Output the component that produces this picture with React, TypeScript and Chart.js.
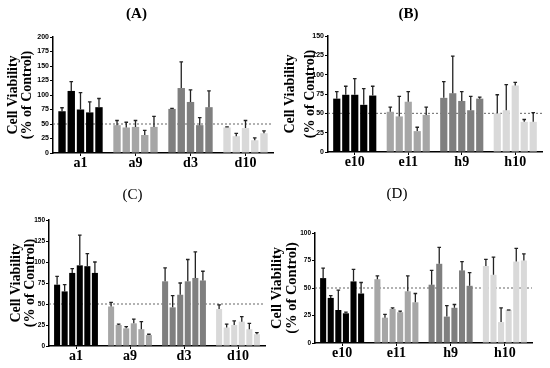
import React, { useEffect, useRef } from "react";
import { Chart, registerables } from "chart.js";
Chart.register(...registerables);

// ---------- DATA ----------
const catsA = ["a1", "a9", "d3", "d10"];
const meanA = [
  [72, 107, 75, 70, 79],
  [48, 44, 45, 31, 45],
  [76, 112, 88, 48, 79],
  [44, 29, 43, 22, 34],
];
const sdA = [
  [6, 16, 29, 18, 15],
  [8, 9, 11, 8, 18],
  [1, 45, 21, 13, 28],
  [1, 5, 13, 4, 4],
];

const catsB = ["e10", "e11", "h9", "h10"];
const meanB = [
  [69, 74, 74, 61, 73],
  [52, 46, 65, 27, 48],
  [70, 76, 66, 54, 69],
  [50, 54, 86, 39, 39],
];
const sdB = [
  [9, 11, 21, 21, 12],
  [6, 26, 13, 5, 10],
  [21, 48, 12, 18, 2],
  [24, 33, 4, 3, 12],
];

const catsC = ["a1", "a9", "d3", "d10"];
const meanC = [
  [73, 65, 87, 96, 95, 87],
  [47, 25, 21, 27, 20, 13],
  [77, 46, 61, 77, 81, 78],
  [44, 22, 25, 29, 20, 14],
];
const sdC = [
  [10, 8, 5, 36, 15, 13],
  [5, 1, 2, 5, 9, 1],
  [16, 14, 14, 26, 31, 11],
  [5, 4, 5, 6, 7, 2],
];

const catsD = ["e10", "e11", "h9", "h10"];
const meanD = [
  [59, 41, 30, 27, 56, 45],
  [58, 23, 31, 28, 47, 37],
  [53, 72, 24, 32, 66, 52],
  [70, 62, 19, 30, 74, 75],
];
const sdD = [
  [9, 2, 18, 1, 11, 10],
  [3, 3, 1, 1, 14, 8],
  [13, 15, 10, 3, 8, 12],
  [6, 16, 13, 0, 12, 6],
];

const groupColors = ["#000000", "#a6a6a6", "#7f7f7f", "#d9d9d9"];
const yTitle = ["Cell Viability", "(% of Control)"];
const refValue = 50;

type PanelCfg = {
  left: number;
  top: number;
  width: number;
  height: number;
  title: string;
  titleBold: boolean;
  titleSize: number;
  titlePadTop: number;
  titlePadBottom: number;
  cats: string[];
  mean: number[][];
  sd: number[][];
  yMax: number;
  yWidth: number;
  xHeight: number;
  padRight: number;
  yTitleSize: number;
  yTitleLH: number;
  yTitlePad: number;
  tickFont: string;
  tickSize: number;
  tickWeight: string;
  catSize: number;
};

const serif = "'Liberation Serif', 'Times New Roman', serif";

function Panel(p: PanelCfg) {
  const ref = useRef<HTMLCanvasElement | null>(null);
  useEffect(() => {
    if (!ref.current) return;
    const nBars = p.mean[0].length;
    const datasets = Array.from({ length: nBars }, (_, i) => ({
      label: "s" + i,
      data: p.cats.map((_, g) => p.mean[g][i]),
      backgroundColor: groupColors,
      borderWidth: 0,
      categoryPercentage: 0.84,
      barPercentage: 0.8,
    }));
    const errPlugin = {
      id: "err",
      beforeDatasetsDraw(chart: any) {
        const { ctx, chartArea } = chart;
        const y = chart.scales.y.getPixelForValue(refValue);
        ctx.save();
        ctx.strokeStyle = "#666";
        ctx.lineWidth = 1;
        ctx.setLineDash([2, 2]);
        ctx.beginPath();
        ctx.moveTo(chartArea.left, y);
        ctx.lineTo(chartArea.right, y);
        ctx.stroke();
        ctx.restore();
      },
      afterDatasetsDraw(chart: any) {
        const { ctx } = chart;
        const ys = chart.scales.y;
        ctx.save();
        ctx.strokeStyle = "#222";
        ctx.lineWidth = 1.3;
        chart.data.datasets.forEach((_: any, i: number) => {
          const meta = chart.getDatasetMeta(i);
          meta.data.forEach((bar: any, g: number) => {
            const m = p.mean[g][i];
            const s = p.sd[g][i];
            const yTop = ys.getPixelForValue(m + s);
            const yBar = ys.getPixelForValue(m);
            ctx.beginPath();
            ctx.moveTo(bar.x, yBar);
            ctx.lineTo(bar.x, yTop);
            ctx.moveTo(bar.x - 1.8, yTop);
            ctx.lineTo(bar.x + 1.8, yTop);
            ctx.stroke();
          });
        });
        ctx.restore();
      },
    };
    const chart = new Chart(ref.current, {
      type: "bar",
      data: { labels: p.cats, datasets },
      options: {
        animation: false,
        responsive: false,
        layout: { padding: { left: 0, right: p.padRight, top: 0, bottom: 0 } },
        plugins: {
          legend: { display: false },
          tooltip: { enabled: false },
          title: {
            display: true,
            text: p.title,
            color: "#000",
            font: {
              family: serif,
              weight: p.titleBold ? "bold" : "normal",
              size: p.titleSize,
              lineHeight: 1.2,
            },
            padding: { top: p.titlePadTop, bottom: p.titlePadBottom },
          },
        },
        scales: {
          x: {
            offset: true,
            grid: {
              display: true,
              offset: false,
              drawOnChartArea: false,
              drawTicks: true,
              tickLength: 3,
              color: "#000",
              lineWidth: 1,
            },
            border: { display: true, color: "#000", width: 1.5 },
            ticks: {
              color: "#000",
              padding: -1,
              font: {
                family: serif,
                weight: "bold",
                size: p.catSize,
                lineHeight: 1.2,
              },
            },
            afterFit: (s: any) => {
              s.height = p.xHeight;
            },
          },
          y: {
            min: 0,
            max: p.yMax,
            grid: {
              display: true,
              drawOnChartArea: false,
              drawTicks: true,
              tickLength: 3,
              color: "#000",
              lineWidth: 1,
            },
            border: { display: true, color: "#000", width: 1.5 },
            ticks: {
              stepSize: 25,
              color: "#000",
              padding: 1,
              font: { family: p.tickFont, weight: p.tickWeight, size: p.tickSize },
            },
            title: {
              display: true,
              text: yTitle,
              color: "#000",
              font: {
                family: serif,
                weight: "bold",
                size: p.yTitleSize,
                lineHeight: p.yTitleLH,
              },
              padding: { top: p.yTitlePad, bottom: 0 },
            },
            afterFit: (s: any) => {
              s.width = p.yWidth;
            },
          },
        },
      },
      plugins: [errPlugin],
    } as any);
    return () => chart.destroy();
  }, []);
  return (
    <canvas
      ref={ref}
      width={p.width}
      height={p.height}
      style={{
        position: "absolute",
        left: p.left,
        top: p.top,
        width: p.width,
        height: p.height,
      }}
    />
  );
}

const sansBold = "'Liberation Sans', Arial, sans-serif";
const sansNarrow = "'Liberation Sans Narrow', 'Liberation Sans', sans-serif";

export default function App() {
  return (
    <div
      style={{
        position: "absolute",
        left: 0,
        top: 0,
        width: 550,
        height: 368,
        background: "#fff",
        overflow: "hidden",
      }}
    >
      <Panel
        left={0} top={0} width={275} height={184}
        title="(A)" titleBold={true} titleSize={15} titlePadTop={5} titlePadBottom={14}
        cats={catsA} mean={meanA} sd={sdA} yMax={200}
        yWidth={53} xHeight={31} padRight={2}
        yTitleSize={14} yTitleLH={1.0} yTitlePad={6}
        tickFont={sansBold} tickSize={7} tickWeight="bold" catSize={14}
      />
      <Panel
        left={275} top={0} width={275} height={184}
        title="(B)" titleBold={true} titleSize={15} titlePadTop={5} titlePadBottom={13}
        cats={catsB} mean={meanB} sd={sdB} yMax={150}
        yWidth={53} xHeight={32} padRight={8}
        yTitleSize={14} yTitleLH={1.43} yTitlePad={5}
        tickFont={sansBold} tickSize={7} tickWeight="bold" catSize={14}
      />
      <Panel
        left={0} top={184} width={275} height={184}
        title="(C)" titleBold={false} titleSize={15} titlePadTop={2} titlePadBottom={16}
        cats={catsC} mean={meanC} sd={sdC} yMax={150}
        yWidth={49} xHeight={22} padRight={10}
        yTitleSize={14} yTitleLH={0.95} yTitlePad={10}
        tickFont={sansNarrow} tickSize={6.5} tickWeight="bold" catSize={14}
      />
      <Panel
        left={262} top={184} width={288} height={184}
        title="(D)" titleBold={false} titleSize={15} titlePadTop={1} titlePadBottom={30}
        cats={catsD} mean={meanD} sd={sdD} yMax={100}
        yWidth={53} xHeight={25} padRight={18}
        yTitleSize={14.5} yTitleLH={1.0} yTitlePad={8}
        tickFont={sansNarrow} tickSize={6.5} tickWeight="bold" catSize={14}
      />
    </div>
  );
}
